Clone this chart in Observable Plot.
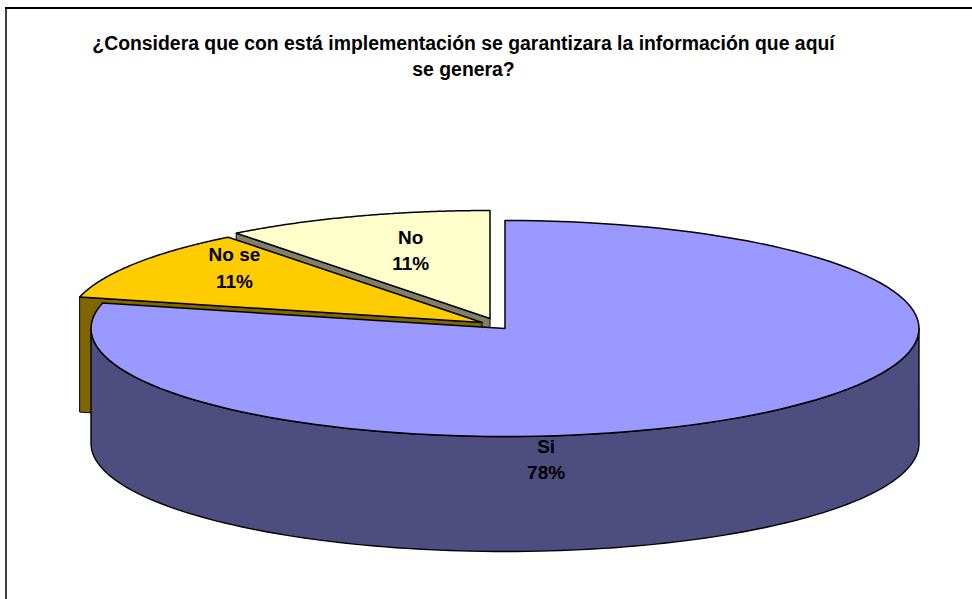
<!DOCTYPE html>
<html><head><meta charset="utf-8">
<script src="https://cdn.jsdelivr.net/npm/d3@7"></script>
<script src="https://cdn.jsdelivr.net/npm/@observablehq/plot@0.6"></script>
<style>html,body{margin:0;padding:0;background:#fff}svg{display:block}</style>
</head><body><div id="chart"></div>
<script>
const categories = ["Si", "No se", "No"];
const shares = [78, 11, 11];
const topColors = ["#9999FF", "#FFCC00", "#FFFFCC"];
const wallColors = ["#4D4D80", "#806600", "#808066"];
const titleText = "¿Considera que con está implementación se garantizara la información que aquí\nse genera?";

// 3D pie layout
const cx = 504.5, cy = 328, rx = 414, ry = 108, depth = 115, persp = 0.05;
const explode = {Si: [0, 0], "No se": [-23, -6], No: [-15, -10]};
const labelPlace = {Si: [0.155, 1.02], "No se": [0.708, -0.125], No: [0.582, -0.08]};

function project(theta, r, ox, oy, z) {
  const u = Math.cos(theta), s = Math.sin(theta);
  const k = 1 + persp * u * r;
  return {
    x: cx + ox + rx * r * s * Math.sqrt(1 - persp * persp) / k,
    y: cy + oy - ry * (r * u + persp * r) / k + z * depth
  };
}
const arcs = d3.pie().sort(null)(shares);
// part of the rim that faces the viewer
const front1 = Math.acos(-persp), front2 = 2 * Math.PI - front1;
function sweep(a0, a1, z, ox, oy) {
  const n = 120, out = [];
  for (let i = 0; i <= n; i++) out.push(project(a0 + (a1 - a0) * i / n, 1, ox, oy, z));
  return out;
}
const layers = [];
const labels = [];
categories.forEach((c, i) => {
  const a = arcs[i], [ox, oy] = explode[c];
  const apex = project(0, 0, ox, oy, 0), apexLow = project(0, 0, ox, oy, 1);
  const rows = [];
  const add = (pts, id, fill, w) => pts.forEach(p => rows.push({...p, id, fill, w}));
  // radial cut face, only when it turns toward the viewer
  if (Math.cos(a.startAngle - Math.PI / 2) < -1e-6) {
    const r0 = project(a.startAngle, 1, ox, oy, 0), r1 = project(a.startAngle, 1, ox, oy, 1);
    add([apex, r0, r1, apexLow, apex], "cut", wallColors[i], 1);
  }
  // outer wall
  const f0 = Math.max(a.startAngle, front1), f1 = Math.min(a.endAngle, front2);
  if (f1 > f0) {
    const up = sweep(f0, f1, 0, ox, oy), low = sweep(f0, f1, 1, ox, oy);
    add([...up, ...low.reverse(), up[0]], "wall", wallColors[i], 1.4);
  }
  // top surface
  add([apex, ...sweep(a.startAngle, a.endAngle, 0, ox, oy), apex], "top", topColors[i], 1.5);
  layers.unshift(rows);
  const mid = (a.startAngle + a.endAngle) / 2, [r, z] = labelPlace[c];
  labels.push({...project(mid, r, ox, oy, z), text: c + "\n" + shares[i] + "%"});
});

const chart = Plot.plot({
  width: 972, height: 599, margin: 0,
  x: {domain: [0, 972], range: [0, 972], axis: null},
  y: {domain: [0, 599], range: [0, 599], axis: null},
  style: {background: "#fff", fontFamily: "Liberation Sans, Arial, sans-serif"},
  marks: [
    Plot.ruleY([7.5], {stroke: "#000", strokeWidth: 2, x1: 5, x2: 972}),
    Plot.ruleX([5.5], {stroke: "#000", strokeWidth: 1.5, y1: 7, y2: 599}),
    ...layers.map(rows => Plot.line(rows, {x: "x", y: "y", z: "id", fill: "fill", stroke: "#000", strokeWidth: "w", curve: "linear", strokeLinejoin: "round"})),
    Plot.text([titleText], {frameAnchor: "top", lineAnchor: "top", text: d => d, dx: -23, dy: 31, lineHeight: 1.35, fontWeight: "bold", fontSize: 19.4, fill: "#000"}),
    Plot.text(labels, {x: "x", y: "y", text: "text", fontWeight: "bold", fontSize: 19, lineHeight: 1.38, fill: "#000"})
  ]
});
document.getElementById("chart").append(chart);
</script></body></html>
